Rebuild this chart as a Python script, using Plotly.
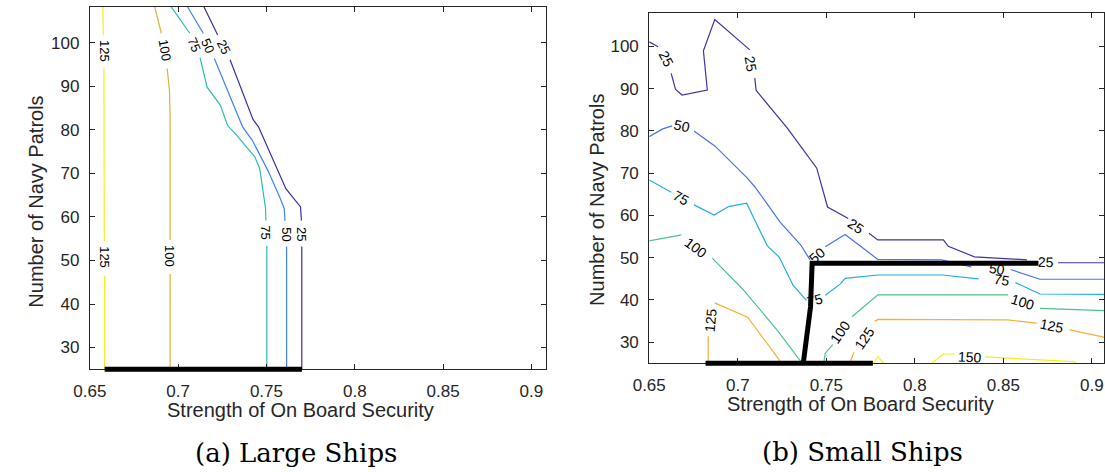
import plotly.graph_objects as go

W, H = 1105, 472

# ---------------- data: panel (a) Large Ships ----------------
A_LEVELS = [25, 50, 75, 100, 125]
A_X = {
    25: [0.7146, 0.7224, None, 0.7294, 0.7424, 0.7455, 0.7610, 0.7693, 0.7698, None, 0.7700, 0.7700],
    50: [0.7053, 0.7142, None, 0.7205, 0.7303, 0.7365, 0.7420, 0.7508, 0.7582, 0.7601, 0.7605, None, 0.7614, 0.7614],
    75: [0.6960, 0.7066, None, 0.7124, 0.7164, 0.7239, 0.7280, 0.7331, 0.7434, 0.7462, 0.7480, 0.7495, 0.7497, None, 0.7502, 0.7502],
    100: [0.6867, 0.6905, None, 0.6938, 0.6945, 0.6951, 0.6955, 0.6955, None, 0.6955, 0.6955],
    125: [0.6574, 0.6576, None, 0.6580, 0.6582, None, 0.6584, 0.6584],
}
A_Y = {
    25: [108.3, 101.8, None, 96.1, 82.4, 80.7, 66.5, 62.3, 59.2, None, 53.2, 25],
    50: [108.3, 102.2, None, 96.4, 86.8, 80.7, 77.6, 70.7, 63.9, 61.9, 59.1, None, 53.2, 25],
    75: [108.3, 102.2, None, 96.6, 89.8, 85.7, 81.0, 78.8, 73.8, 71.1, 65.4, 61.9, 59.2, None, 53.4, 25],
    100: [108.3, 102.2, None, 94.1, 91.4, 89.1, 82.2, 54.7, None, 46.9, 25],
    125: [108.3, 101.8, None, 94.1, 54.5, None, 46.5, 25],
}
A_LABEL_X = [0.6584, 0.6923, 0.7090, 0.7168, 0.7257, 0.6582, 0.6955, 0.7494, 0.7609, 0.7699]
A_LABEL_Y = [98.2, 98.4, 99.6, 99.4, 99.2, 50.7, 51.0, 56.4, 56.1, 56.2]
A_LABEL_T = ["125", "100", "75", "50", "25", "125", "100", "75", "50", "25"]
A_LABEL_ANG = [90, 80, 67, 66, 63, 90, 90, 90, 90, 90]
A_FRONT_X = [0.6584, 0.7701]
A_FRONT_Y = [25, 25]

# ---------------- data: panel (b) Small Ships ----------------
B_LEVELS = [25, 50, 75, 100, 125, 150]
B_X = {
    25: [0.65, 0.655, None, 0.6624, 0.6648, 0.6685, 0.6828, 0.6806, 0.6870, 0.7068, None, 0.7096, 0.7104,
         0.7281, 0.7446, 0.7507, 0.7624, None, 0.7741, 0.7791, 0.8161, 0.8189, 0.8337, 0.8633, None, 0.8809, 0.9068],
    50: [0.65, 0.6576, 0.6629, None, 0.6753, 0.6872, 0.7050, 0.7096, 0.7170, 0.7238, 0.7356, 0.7408, None,
         0.7494, 0.7606, 0.7791, 0.8152, 0.8320, None, 0.8541, 0.8707, 0.9068],
    75: [0.65, 0.6624, None, 0.6753, 0.6867, 0.6948, 0.7050, 0.7167, 0.7235, 0.7312, 0.7388, None,
         0.7494, 0.7580, 0.7606, 0.7791, 0.8156, 0.8360, None, 0.8568, 0.8707, 0.9068],
    100: [0.65, 0.6682, None, 0.6856, 0.7027, 0.7226, 0.7364, None, 0.7485, 0.7494, 0.7537, None,
          0.7645, 0.7791, 0.8527, None, 0.8707, 0.9068],
    125: [0.6833, 0.6833, None, 0.6870, 0.7031, 0.7056, 0.7229, 0.7244, None, 0.7633, 0.7656, None,
          0.7772, 0.7791, 0.8522, 0.8689, None, 0.8874, 0.9068],
    150: [0.7767, 0.7791, 0.7825, None, 0.8096, 0.8161, 0.8226, None, 0.8397, 0.8897, 0.8911],
}
B_Y = {
    25: [101.1, 99.95, None, 93.65, 89.9, 88.5, 89.7, 99.0, 106.4, 99.2, None, 92.5, 89.6,
         80.6, 71.2, 62.0, 59.3, None, 55.8, 54.2, 54.2, 52.7, 50.2, 49.5, None, 48.8, 48.8],
    50: [78.65, 80.5, 81.2, None, 80.0, 76.4, 69.0, 66.8, 62.5, 58.5, 53.0, 49.5, None,
         52.6, 55.5, 49.6, 49.5, 47.8, None, 47.2, 44.9, 44.9],
    75: [68.4, 65.5, None, 62.5, 60.1, 62.1, 62.9, 52.8, 50.1, 43.5, 39.9, None,
         41.1, 43.8, 45.1, 45.9, 45.9, 45.0, None, 44.1, 41.4, 41.3],
    100: [54.0, 55.4, None, 49.9, 42.6, 32.7, 25.0, None, 25.0, 27.4, 29.4, None,
          36.0, 41.2, 41.2, None, 38.0, 37.45],
    125: [25, 31.4, None, 39.3, 36.4, 35.9, 26.1, 25, None, 25, 27.6, None,
          34.9, 35.4, 35.3, 34.5, None, 32.9, 31.2],
    150: [25, 26.6, 25, None, 25, 27.2, 27.2, None, 26.5, 25.4, 25],
}
B_LABEL_X = [0.6596, 0.7074, 0.7666, 0.8739, 0.6687, 0.7450, 0.8463, 0.6679, 0.7437, 0.8494,
             0.6765, 0.7578, 0.8609, 0.6848, 0.7715, 0.8777, 0.8309]
B_LABEL_Y = [97.0, 95.9, 57.5, 49.1, 81.2, 50.7, 47.3, 64.1, 40.0, 44.8,
             52.3, 32.5, 39.6, 35.2, 31.1, 33.9, 26.5]
B_LABEL_T = ["25", "25", "25", "25", "50", "50", "50", "75", "75", "75",
             "100", "100", "100", "125", "125", "125", "150"]
B_LABEL_ANG = [63, 80, 35, 2, 13, -40, 8, 29, -15, 10, 37, -55, 17, -85, -56, 12, 3]
B_FRONT1_X = [0.6818, 0.7763]
B_FRONT1_Y = [25, 25]
B_FRONT2_X = [0.7370, 0.7411, 0.7420, 0.8698]
B_FRONT2_Y = [25, 38.4, 48.7, 48.7]

X_TICKS = [0.65, 0.7, 0.75, 0.8, 0.85, 0.9]
X_TICKTEXT = ["0.65", "0.7", "0.75", "0.8", "0.85", "0.9"]
Y_TICKS = [30, 40, 50, 60, 70, 80, 90, 100]

# ---------------- styles ----------------
A_COLORS = {25: "#3d2c9f", 50: "#3f82f4", 75: "#2dbdae", 100: "#d3b43c", 125: "#f3ef1c"}
B_COLORS = {25: "#4230a8", 50: "#4a70f0", 75: "#1eaee4", 100: "#4cc38c", 125: "#f3b235", 150: "#f4f01c"}
SANS = "Liberation Sans, Arial, Helvetica, sans-serif"
INK = "#262626"

# panel geometry (pixels)
A_PX = (74.0, 537.3, 6.7, 369.3)      # left, right, top, bottom
B_PX = (642.7, 1105.0, 12.7, 363.3)
XR_A = [0.65, 0.908]
YR_A = [25, 108.3]
XR_B = [0.65, 0.65 + (W - 642.7) / 1800.0]
YR_B = [25, 108]


def dom(px):
    l, r, t, b = px
    return [l / W, r / W], [1 - b / H, 1 - t / H]


xa_dom, ya_dom = dom(A_PX)
xb_dom, yb_dom = dom(B_PX)

PAD = 8.0
def ext(ydom, yr, px):
    l, r, t, b = px
    upp = (yr[1] - yr[0]) / (b - t)
    return [ydom[0] - PAD / H, ydom[1]], [yr[0] - PAD * upp, yr[1]]

y3_dom, y3_rng = ext(ya_dom, YR_A, A_PX)
y4_dom, y4_rng = ext(yb_dom, YR_B, B_PX)

fig = go.Figure()

for lv in A_LEVELS:
    fig.add_trace(go.Scatter(x=A_X[lv], y=A_Y[lv], mode="lines", xaxis="x", yaxis="y",
                             line=dict(color=A_COLORS[lv], width=1.2), connectgaps=False,
                             hoverinfo="skip", showlegend=False))
for lv in B_LEVELS:
    fig.add_trace(go.Scatter(x=B_X[lv], y=B_Y[lv], mode="lines", xaxis="x2", yaxis="y2",
                             line=dict(color=B_COLORS[lv], width=1.2), connectgaps=False,
                             hoverinfo="skip", showlegend=False))

# frontier lines (on padded overlay axes so they are not clipped at the bottom)
fig.add_trace(go.Scatter(x=A_FRONT_X, y=A_FRONT_Y, mode="lines", xaxis="x3", yaxis="y3",
                         line=dict(color="black", width=5), hoverinfo="skip", showlegend=False))
fig.add_trace(go.Scatter(x=B_FRONT1_X, y=B_FRONT1_Y, mode="lines", xaxis="x4", yaxis="y4",
                         line=dict(color="black", width=5), hoverinfo="skip", showlegend=False))
fig.add_trace(go.Scatter(x=B_FRONT2_X, y=B_FRONT2_Y, mode="lines", xaxis="x4", yaxis="y4",
                         line=dict(color="black", width=5), hoverinfo="skip", showlegend=False))

axstyle = dict(showline=True, linecolor=INK, linewidth=1, mirror="allticks", ticks="inside",
               ticklen=5, tickcolor=INK, tickwidth=1, showgrid=False, zeroline=False,
               tickfont=dict(family=SANS, size=17, color=INK))

annotations = []
for x, y, t, a in zip(A_LABEL_X, A_LABEL_Y, A_LABEL_T, A_LABEL_ANG):
    annotations.append(dict(x=x, y=y, xref="x", yref="y", text=t, textangle=a, showarrow=False,
                            font=dict(family=SANS, size=13, color="black")))
for x, y, t, a in zip(B_LABEL_X, B_LABEL_Y, B_LABEL_T, B_LABEL_ANG):
    annotations.append(dict(x=x, y=y, xref="x2", yref="y2", text=t, textangle=a, showarrow=False,
                            font=dict(family=SANS, size=14, color="black")))

title_font = dict(family=SANS, size=20, color=INK)
annotations += [
    dict(x=288 / W, y=1 - 410 / H, xref="paper", yref="paper", text="Strength of On Board Security",
         showarrow=False, font=title_font, xanchor="center", yanchor="middle"),
    dict(x=857 / W, y=1 - 403.5 / H, xref="paper", yref="paper", text="Strength of On Board Security",
         showarrow=False, font=title_font, xanchor="center", yanchor="middle"),
    dict(x=19.5 / W, y=1 - 201.5 / H, xref="paper", yref="paper", text="Number of Navy Patrols",
         textangle=-90, showarrow=False, font=title_font, xanchor="center", yanchor="middle"),
    dict(x=589.5 / W, y=1 - 200 / H, xref="paper", yref="paper", text="Number of Navy Patrols",
         textangle=-90, showarrow=False, font=title_font, xanchor="center", yanchor="middle"),
    dict(x=284 / W, y=1 - 453 / H, xref="paper", yref="paper", text="(a) Large Ships",
         showarrow=False, font=dict(family="DejaVu Serif, serif", size=26, color="black"),
         xanchor="center", yanchor="middle"),
    dict(x=859 / W, y=1 - 452 / H, xref="paper", yref="paper", text="(b) Small Ships",
         showarrow=False, font=dict(family="DejaVu Serif, serif", size=26, color="black"),
         xanchor="center", yanchor="middle"),
]

fig.update_layout(
    width=W, height=H, margin=dict(l=0, r=0, t=0, b=0),
    paper_bgcolor="white", plot_bgcolor="rgba(0,0,0,0)", showlegend=False,
    xaxis=dict(domain=xa_dom, range=XR_A, anchor="y", tickvals=X_TICKS, ticktext=X_TICKTEXT,
               ticklabelstandoff=6, **axstyle),
    yaxis=dict(domain=ya_dom, range=YR_A, anchor="x", tickvals=Y_TICKS, ticklabelstandoff=6, **axstyle),
    xaxis2=dict(domain=xb_dom, range=XR_B, anchor="y2", tickvals=X_TICKS, ticktext=X_TICKTEXT,
                ticklabelstandoff=6, **axstyle),
    yaxis2=dict(domain=yb_dom, range=YR_B, anchor="x2", tickvals=Y_TICKS, ticklabelstandoff=6, **axstyle),
    xaxis3=dict(domain=xa_dom, range=XR_A, anchor="y3", visible=False),
    yaxis3=dict(domain=y3_dom, range=y3_rng, anchor="x3", visible=False),
    xaxis4=dict(domain=xb_dom, range=XR_B, anchor="y4", visible=False),
    yaxis4=dict(domain=y4_dom, range=y4_rng, anchor="x4", visible=False),
    annotations=annotations,
)

fig.write_html("out.html")
